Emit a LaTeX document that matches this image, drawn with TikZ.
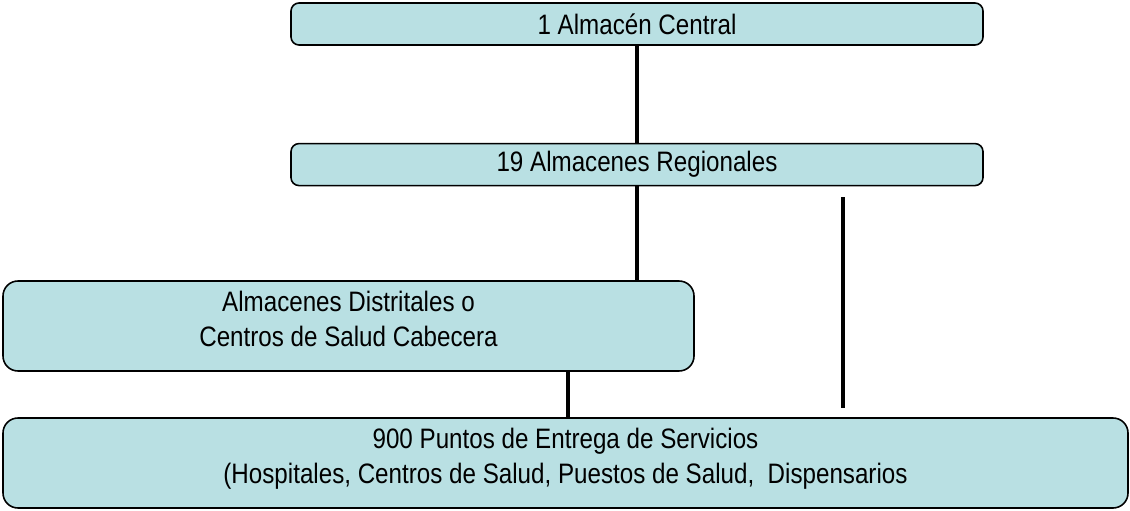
\documentclass[tikz,border=0pt]{standalone}
\usepackage{fontspec}
\setmainfont[FakeStretch=0.86]{Liberation Sans}
\usepackage{tikz}
\usetikzlibrary{positioning}
\definecolor{boxblue}{RGB}{185,224,227}
\tikzstyle{level} = [rectangle, rounded corners=0.16cm, minimum width=13.84cm, minimum height=0.84cm, inner sep=0pt, text centered, draw=black, fill=boxblue, line width=0.9pt]
\tikzstyle{levelw} = [rectangle, rounded corners=0.3cm, minimum height=1.8cm, inner sep=0pt, text depth=0.3cm, text centered, draw=black, fill=boxblue, line width=0.9pt]
\tikzstyle{link} = [line width=0.08cm]

\begin{document}
\begin{tikzpicture}[every text node part/.style={align=center}, font=\fontsize{16pt}{19.8pt}\selectfont]
		
		\useasboundingbox (0,0) rectangle (22.6,-10.22);
		
		\node (central) [level] at (12.74,-0.48) {1 Almacén Central};
		\node (regional) [level, below = 1.94cm of central] {19 Almacenes Regionales};
		
		\node (distrital) [levelw, minimum width=13.82cm] at (6.97,-6.52) {Almacenes Distritales o\\Centros de Salud Cabecera};
		\node (puntos) [levelw, minimum width=22.5cm] at (11.31,-9.26) {900 Puntos de Entrega de Servicios\\(Hospitales, Centros de Salud, Puestos de Salud,\ \ Dispensarios};
		
		% free standing line on the right
		\coordinate (sidetop) at (16.86,-3.94);
		\coordinate (sidebot) at (16.86,-8.16);
		
		\draw [link] (central.south) -- (regional.north);
		\draw [link] (regional.south) -- (regional.south |- distrital.north);
		\draw [link] ([xshift=4.39cm] distrital.south) -- ([xshift=4.39cm] distrital.south |- puntos.north);
		\draw [link] (sidetop) -- (sidebot);
		
\end{tikzpicture}
\end{document}
